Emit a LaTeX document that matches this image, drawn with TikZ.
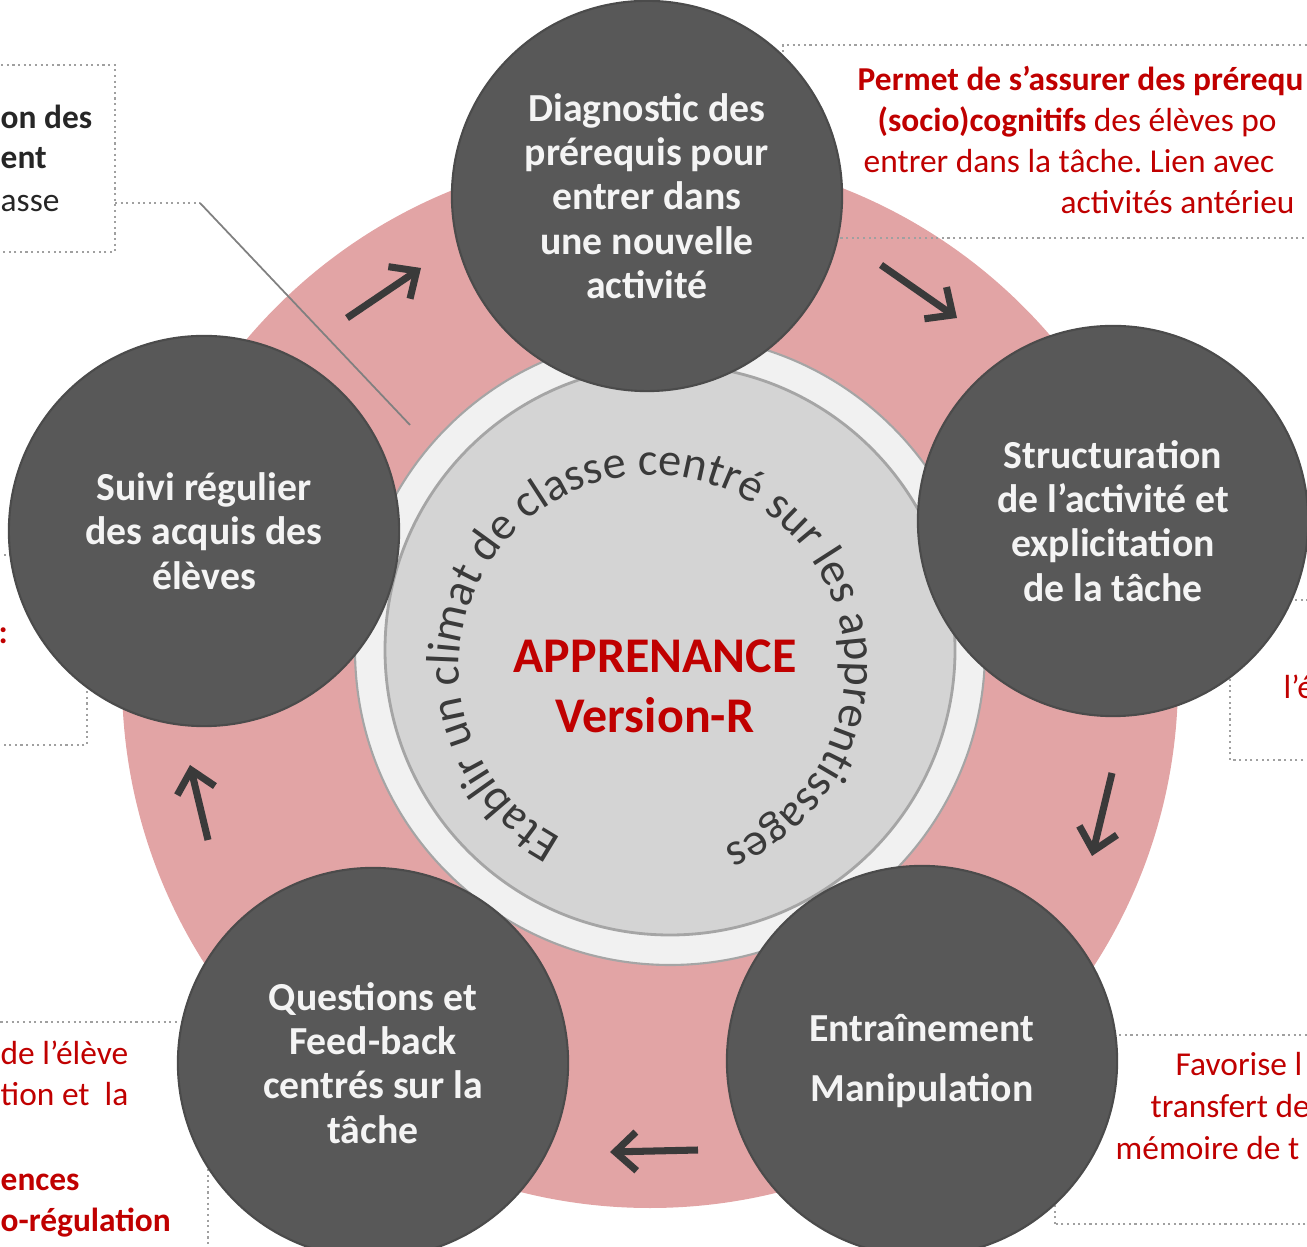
\documentclass[tikz,border=0pt]{standalone}
\usepackage{fontspec}
\setmainfont{Carlito}
\usepackage{tikz}
\usetikzlibrary{arrows.meta, decorations.text, positioning}
\definecolor{ringpink}{RGB}{226,164,165}
\definecolor{discgrey}{RGB}{212,212,212}
\definecolor{rimwhite}{RGB}{241,241,241}
\definecolor{rimedge}{RGB}{165,165,165}
\definecolor{stagegrey}{RGB}{88,88,88}
\definecolor{stagetext}{RGB}{244,244,244}
\definecolor{notered}{RGB}{192,0,0}
\definecolor{inkgrey}{RGB}{58,58,58}
\definecolor{boxgrey}{RGB}{160,160,160}

\begin{document}
\begin{tikzpicture}[x=0.01cm, y=0.01cm,
    stage/.style={circle, fill=stagegrey, draw=stagegrey!85!black, line width=0.6pt,
      minimum size=3.9cm, inner sep=0pt, align=center, text=stagetext,
      font=\fontsize{11.3}{12.6}\selectfont\bfseries},
    note/.style={anchor=base west, inner sep=0pt, text=notered, font=\fontsize{9.5}{11.5}\selectfont\frenchspacing},
    notebold/.style={note, font=\fontsize{9.5}{11.5}\selectfont\bfseries},
    notebox/.style={draw=boxgrey, densely dotted, line width=0.6pt},
    flow/.style={-{Straight Barb[length=6pt, width=11pt]}, line width=2pt, inkgrey}]

    \useasboundingbox (0,0) rectangle (1307,1246);
    \clip (0,0) rectangle (1307,1246);

    % pink cycle ring
    \fill[ringpink] (650,566) circle[radius=528];

    % dotted call-out frames
    \draw[notebox] (-20,994) rectangle (115,1181);
    \draw[notebox] (783,1008) rectangle (1340,1201);
    \draw[notebox] (-20,501) rectangle (87,691);
    \draw[notebox] (1230,486) rectangle (1340,646);
    \draw[notebox] (-20,-20) rectangle (208,224);
    \draw[notebox] (1055,22) rectangle (1340,211);

    \coordinate (tlpin) at (115,1043);
    \coordinate (tlbend) at (200,1043);
    \coordinate (tlend) at (410,821);
    \draw[notebox] (tlpin) -- (tlbend);
    \draw[boxgrey!80!black, line width=0.5pt] (tlbend) -- (tlend);

    % cycle arrows
    \coordinate (a1s) at (347,928);  \coordinate (a1e) at (421,978);
    \coordinate (a2s) at (881,981);  \coordinate (a2e) at (957,928);
    \coordinate (a3s) at (1112,473); \coordinate (a3e) at (1092,390);
    \coordinate (a4s) at (698,96);   \coordinate (a4e) at (610,94);
    \coordinate (a5s) at (208,406);  \coordinate (a5e) at (190,481);
    \foreach \i/\j in {a1s/a1e, a2s/a2e, a3s/a3e, a4s/a4e, a5s/a5e} {
      \draw[flow] (\i) -- (\j);
    }

    % central disc
    \fill[rimwhite] (670,596) circle[radius=315];
    \draw[rimedge, line width=0.6pt] (670,596) circle[radius=315];
    \fill[discgrey] (670,596) circle[radius=285];
    \draw[rimedge, line width=0.8pt] (670,596) circle[radius=285];

    \path[decorate, decoration={text along path, text align=center, text color=inkgrey,
        text={|\fontsize{13.2}{15}\selectfont|Etablir un climat de classe centré sur les apprentissages}}]
      (652,578) ++(260:193) arc[start angle=260, end angle=-86, radius=193];

    \node[font=\fontsize{14.2}{17}\selectfont\bfseries, text=notered, align=center] (core)
      at (655,560) {APPRENANCE\\Version-R};

    % the five stages
    \node[stage] (diag) at (647,1050) {Diagnostic des\\prérequis pour\\entrer dans\\une nouvelle\\activité};
    \node[stage] (struct) at (1113,725) {Structuration\\de l’activité et\\explicitation\\de la tâche};
    \node[stage] (train) at (922,185) {Entraînement\\[4.5pt]Manipulation};
    \node[stage] (quest) at (373,183) {Questions et\\Feed-back\\centrés sur la\\tâche};
    \node[stage] (suivi) at (204,715) {Suivi régulier\\des acquis des\\élèves};

    % call-out texts
    \node[notebold, text=black!85] (tl1) at (0,1117) {on des};
    \node[notebold, text=black!85] (tl2) at (0,1077) {ent};
    \node[note, text=black!85] (tl3) at (0,1034) {asse};

    \node[notebold] (tr1) at (857,1155) {Permet de s’assurer des prérequ};
    \node[note] (tr2) at (877,1114) {\textbf{(socio)cognitifs} des élèves po};
    \node[note] (tr3) at (863,1073) {entrer dans la tâche. Lien avec};
    \node[note] (tr4) at (1060,1032) {activités antérieu};

    \node[notebold] (lm1) at (-2,602) {:};
    \node[note] (rm1) at (1283,547) {l’é};

    \node[note] (bl1) at (0,182) {de l’élève};
    \node[note] (bl2) at (0,140) {tion et\ \ la};
    \node[notebold] (bl3) at (0,56) {ences};
    \node[notebold] (bl4) at (0,15) {o-régulation};

    \node[note] (br1) at (1175,171) {Favorise l};
    \node[note] (br2) at (1150,129) {transfert de};
    \node[note] (br3) at (1115,87) {mémoire de t};
\end{tikzpicture}
\end{document}
